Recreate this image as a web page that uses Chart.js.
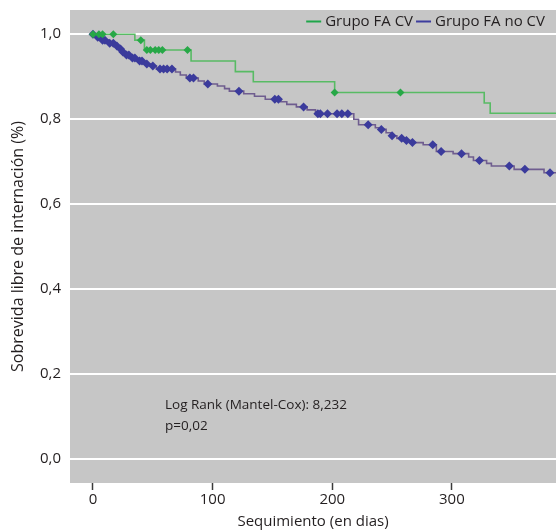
<!DOCTYPE html>
<html><head><meta charset="utf-8">
<script src="https://cdn.jsdelivr.net/npm/chart.js@4.4.1/dist/chart.umd.min.js"></script>
<style>html,body{margin:0;padding:0;background:#fff}canvas{display:block}</style>
</head><body>
<canvas id="c" width="556" height="532"></canvas>
<script>
// ---- data ----
const seriesNames = ['Grupo FA CV', 'Grupo FA no CV'];

// Grupo FA CV: Kaplan-Meier steps
const cvStepDays = [0, 35, 43, 82, 119, 134, 202, 327, 332, 390];
const cvStepSurv = [1.0, 0.986, 0.963, 0.937, 0.912, 0.888, 0.863, 0.838, 0.814, 0.814];
// Grupo FA CV: censored marks
const cvCensorDays = [0, 5, 8, 17, 40, 45, 48, 52, 55, 58, 79, 202, 257];
const cvCensorSurv = [1.0, 1.0, 1.0, 1.0, 0.986, 0.963, 0.963, 0.963, 0.963, 0.963, 0.963, 0.863, 0.863];

// Grupo FA no CV: Kaplan-Meier steps
const nocvStepDays = [0, 3, 7, 13, 19, 22, 24, 27, 31, 37, 43, 48, 53, 69, 73, 78, 88, 93, 104, 110, 114, 126, 135, 144, 157, 162, 170, 179, 186, 218, 222, 236, 240, 245, 249, 254, 260, 265, 276, 287, 301, 314, 318, 329, 333, 352, 377, 390];
const nocvStepSurv = [1.0, 0.993, 0.986, 0.979, 0.972, 0.965, 0.958, 0.951, 0.944, 0.937, 0.930, 0.925, 0.918, 0.911, 0.904, 0.897, 0.890, 0.883, 0.878, 0.872, 0.866, 0.860, 0.854, 0.847, 0.841, 0.835, 0.829, 0.822, 0.813, 0.800, 0.787, 0.780, 0.776, 0.768, 0.761, 0.755, 0.750, 0.745, 0.740, 0.724, 0.719, 0.711, 0.703, 0.696, 0.690, 0.682, 0.674, 0.674];
// Grupo FA no CV: censored marks
const nocvCensorDays = [0, 4, 8, 10, 14, 17, 20, 23, 25, 28, 30, 33, 35, 39, 41, 45, 50, 56, 59, 62, 66, 81, 84, 96, 122, 152, 155, 176, 188, 190, 196, 204, 208, 213, 230, 241, 250, 258, 262, 267, 284, 291, 308, 323, 348, 361, 382];
const nocvCensorSurv = [1.0, 0.993, 0.986, 0.986, 0.979, 0.979, 0.972, 0.965, 0.958, 0.951, 0.951, 0.944, 0.944, 0.937, 0.937, 0.930, 0.925, 0.918, 0.918, 0.918, 0.918, 0.897, 0.897, 0.883, 0.866, 0.847, 0.847, 0.829, 0.813, 0.813, 0.813, 0.813, 0.813, 0.813, 0.787, 0.776, 0.761, 0.755, 0.750, 0.745, 0.740, 0.724, 0.719, 0.703, 0.690, 0.682, 0.674];

const xTicks = [0, 100, 200, 300];
const yTicks = [0, 0.2, 0.4, 0.6, 0.8, 1.0];
const xTitle = 'Sequimiento (en dias)';
const yTitle = 'Sobrevida libre de internación (%)';
const annotationLines = ['Log Rank (Mantel-Cox): 8,232', 'p=0,02'];

// ---- styles ----
const FONT = "'Open Sans', sans-serif";
const TXT = '#231f20';
const GREEN_LINE = '#58bb64', GREEN_MARK = '#27a847', GREEN_LEG = '#1fa64a';
const BLUE_LINE = '#6f5d8f', BLUE_MARK = '#3b3b9c', BLUE_LEG = '#3d3d9e';

const zip = (xs, ys) => xs.map((x, i) => ({x: x, y: ys[i]}));

const bgPlugin = {
  id: 'bg',
  beforeDraw(chart) {
    const {ctx, chartArea: a} = chart;
    ctx.save();
    ctx.fillStyle = '#fff';
    ctx.fillRect(0, 0, chart.width, chart.height);
    ctx.fillStyle = '#c6c6c6';
    ctx.fillRect(a.left, a.top, a.right - a.left, a.bottom - a.top);
    ctx.restore();
  }
};

const textPlugin = {
  id: 'texts',
  afterDraw(chart) {
    const ctx = chart.ctx;
    ctx.save();
    ctx.fillStyle = TXT;
    ctx.textBaseline = 'middle';
    ctx.textAlign = 'left';
    ctx.font = '13.5px ' + FONT;
    annotationLines.forEach((t, i) => ctx.fillText(t, 165, 405 + i * 21));
    // legend (top-right, inside plot)
    ctx.font = '15px ' + FONT;
    const colors = [GREEN_LEG, BLUE_LEG];
    let xr = 545;
    const y = 21.5;
    for (let i = seriesNames.length - 1; i >= 0; i--) {
      const w = ctx.measureText(seriesNames[i]).width;
      const tx = xr - w;
      ctx.fillStyle = TXT;
      ctx.fillText(seriesNames[i], tx, y);
      ctx.strokeStyle = colors[i];
      ctx.lineWidth = 2;
      ctx.beginPath();
      ctx.moveTo(tx - 19, y);
      ctx.lineTo(tx - 4, y);
      ctx.stroke();
      xr = tx - 22;
    }
    ctx.restore();
  }
};

function noPad(s) { s.paddingTop = 0; s.paddingBottom = 0; s.paddingLeft = 0; s.paddingRight = 0; }

new Chart(document.getElementById('c'), {
  type: 'line',
  data: {
    datasets: [
      {label: seriesNames[0] + ' censurados', data: zip(cvCensorDays, cvCensorSurv), showLine: false,
       pointStyle: 'rectRot', pointRadius: 4, pointBackgroundColor: GREEN_MARK, pointBorderWidth: 0, order: 0},
      {label: seriesNames[1] + ' censurados', data: zip(nocvCensorDays, nocvCensorSurv), showLine: false,
       pointStyle: 'rectRot', pointRadius: 4.5, pointBackgroundColor: BLUE_MARK, pointBorderWidth: 0, order: 1},
      {label: seriesNames[0], data: zip(cvStepDays, cvStepSurv), stepped: true, borderColor: GREEN_LINE,
       borderWidth: 1.6, pointRadius: 0, fill: false, order: 2},
      {label: seriesNames[1], data: zip(nocvStepDays, nocvStepSurv), stepped: true, borderColor: BLUE_LINE,
       borderWidth: 1.6, pointRadius: 0, fill: false, order: 3}
    ]
  },
  options: {
    responsive: false,
    animation: false,
    devicePixelRatio: 1,
    layout: {autoPadding: false, padding: {top: 10, left: 0, right: 0, bottom: 0}},
    plugins: {legend: {display: false}, tooltip: {enabled: false}},
    scales: {
      x: {
        type: 'linear', min: -19.2, max: 387,
        afterBuildTicks(s) { s.ticks = xTicks.map(v => ({value: v})); },
        afterFit(s) { s.height = 49; noPad(s); },
        grid: {display: true, drawOnChartArea: false, drawTicks: true, tickLength: 7, tickColor: '#3a3a3a', tickWidth: 1.5},
        border: {display: false},
        ticks: {font: {family: FONT, size: 15}, color: TXT, padding: 1, maxRotation: 0},
        title: {display: true, text: xTitle, font: {family: FONT, size: 15}, color: TXT, padding: {top: 0, bottom: 1}}
      },
      y: {
        type: 'linear', min: -0.056, max: 1.057,
        afterBuildTicks(s) { s.ticks = yTicks.map(v => ({value: v})); },
        afterFit(s) { s.width = 70; noPad(s); },
        grid: {color: '#ffffff', lineWidth: 2, drawTicks: false},
        border: {display: false},
        ticks: {font: {family: FONT, size: 15}, color: TXT, padding: 9,
                callback: v => v.toFixed(1).replace('.', ',')},
        title: {display: true, text: yTitle, font: {family: FONT, size: 16}, color: TXT, padding: {top: 9, bottom: 0}}
      }
    }
  },
  plugins: [bgPlugin, textPlugin]
});
</script>
</body></html>
